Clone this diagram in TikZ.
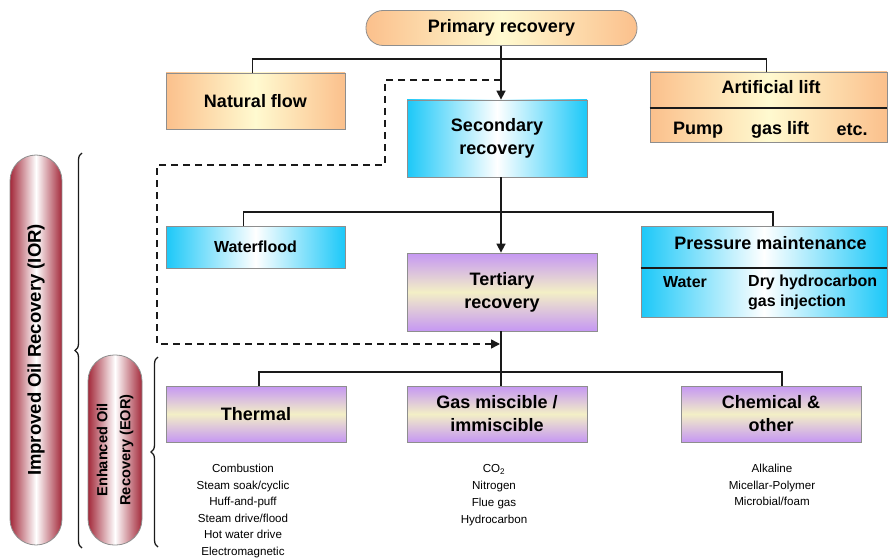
\documentclass[tikz,border=0pt]{standalone}
\usepackage{fontspec}
\setmainfont{Liberation Sans}
\usetikzlibrary{positioning,arrows.meta,decorations.pathreplacing}

\definecolor{orangeedge}{HTML}{FBC08C}
\definecolor{orangemid}{HTML}{FFFAD0}
\definecolor{blueedge}{HTML}{1CC8F8}
\definecolor{purpleedge}{HTML}{C597F3}
\definecolor{purplemid}{HTML}{F3EFC6}
\definecolor{pilledge}{HTML}{A3293A}
\definecolor{boxline}{HTML}{8E8E8E}
\definecolor{inkline}{HTML}{1A1A1A}

\tikzset{
  box/.style={draw=boxline, line width=0.8pt, inner sep=0pt, align=center,
    font=\fontsize{18}{23}\selectfont\bfseries},
  orangebox/.style={box, left color=orangeedge, right color=orangeedge, middle color=orangemid},
  bluebox/.style={box, left color=blueedge, right color=blueedge, middle color=white},
  purplebox/.style={box, top color=purpleedge, bottom color=purpleedge, middle color=purplemid},
  pill/.style={draw=boxline, line width=0.8pt, rounded corners=26pt, inner sep=0pt,
    left color=pilledge, right color=pilledge, middle color=white},
  sublabel/.style={inner sep=0pt, font=\fontsize{16}{20}\selectfont\bfseries},
  listtext/.style={inner sep=0pt, align=center, anchor=north, font=\fontsize{11.6}{16.5}\selectfont},
  link/.style={draw=inkline, line width=1.6pt},
  flowarrow/.style={-{Triangle[width=9pt,length=9pt]}},
  bracebar/.style={draw=inkline, line width=1.3pt, decorate, decoration={brace, amplitude=7pt}}
}

\begin{document}
\begin{tikzpicture}[x=1pt, y=-1pt]
  \useasboundingbox (0,0) rectangle (888,559);

  % recovery stages
  \node[orangebox, rounded corners=17pt, minimum width=271, minimum height=35] (primary) at (501.5,28) {Primary recovery};
  \node[orangebox, minimum width=179, minimum height=56] (natural) at (255.5,101) {Natural flow};
  \node[orangebox, minimum width=237, minimum height=70] (artlift) at (768.5,107) {};
  \node[bluebox, minimum width=180, minimum height=77] (secondary) at (497,138.5) {Secondary\\recovery};
  \node[bluebox, minimum width=179, minimum height=42, font=\fontsize{16}{20}\selectfont\bfseries] (waterflood) at (255.5,247) {Waterflood};
  \node[bluebox, minimum width=246, minimum height=91] (pressure) at (764,271.5) {};
  \node[purplebox, minimum width=190, minimum height=78] (tertiary) at (502,292) {Tertiary\\recovery};
  \node[purplebox, minimum width=180, minimum height=56] (thermal) at (256,414) {Thermal};
  \node[purplebox, minimum width=180, minimum height=56] (gasmis) at (497,414) {Gas miscible /\\immiscible};
  \node[purplebox, minimum width=180, minimum height=56] (chemical) at (771,414) {Chemical \&\\other};

  % split boxes
  \draw[draw=inkline, line width=1.4pt] (artlift.west |- 0,108) -- (artlift.east |- 0,108);
  \node[sublabel, font=\fontsize{18}{22}\selectfont\bfseries] (artlifttitle) at (771,87) {Artificial lift};
  \node[sublabel, font=\fontsize{18}{22}\selectfont\bfseries] (pump) at (698,130) {Pump};
  \node[sublabel, font=\fontsize{18}{22}\selectfont\bfseries] (gaslift) at (780,130) {gas lift};
  \node[sublabel, font=\fontsize{18}{22}\selectfont\bfseries] (etc) at (852,130) {etc.};
  \draw[draw=inkline, line width=1.4pt] (pressure.west |- 0,268) -- (pressure.east |- 0,268);
  \node[sublabel, font=\fontsize{18}{22}\selectfont\bfseries] (pressuretitle) at (770.5,243) {Pressure maintenance};
  \node[sublabel] (water) at (685,282) {Water};
  \node[sublabel, align=left, anchor=west, font=\fontsize{16}{20}\selectfont\bfseries] (dryhc) at (748,292) {Dry hydrocarbon\\gas injection};

  % methods
  \node[listtext] (thermallist) at (243,464) {Combustion\\Steam soak/cyclic\\Huff-and-puff\\Steam drive/flood\\Hot water drive\\Electromagnetic};
  \node[listtext, font=\fontsize{11.6}{17.2}\selectfont] (gaslist) at (494,464) {CO\textsubscript{2}\\Nitrogen\\Flue gas\\Hydrocarbon};
  \node[listtext] (chemlist) at (772,464) {Alkaline\\Micellar-Polymer\\Microbial/foam};

  % tree connectors
  \coordinate (split1) at (501,59);
  \coordinate (split2) at (501,212);
  \coordinate (split3) at (501,372);
  \draw[link] ([xshift=-3pt]natural.north) |- (split1) -| ([xshift=-2pt]artlift.north);
  \draw[link, flowarrow] (split1 |- primary.south) -- (split1 |- secondary.north);
  \draw[link] (split2 |- secondary.south) -- (split2);
  \draw[link] ([xshift=-12pt]waterflood.north) |- (split2) -| ([xshift=9pt]pressure.north);
  \draw[link, flowarrow] (split2) -- (split2 |- tertiary.north);
  \draw[link] (split3 |- tertiary.south) -- (split3);
  \draw[link] ([xshift=3pt]thermal.north) |- (split3) -| ([xshift=11pt]chemical.north);
  \draw[link] (split3) -- (split3 |- gasmis.north);

  % secondary can be skipped
  \coordinate (skipstart) at (501,80);
  \coordinate (skipend) at (500,344);
  \draw[link, flowarrow, dash pattern=on 7pt off 5pt] (skipstart) -- ++(-116,0) |- ++(-228,85) |- (skipend);

  % IOR / EOR
  \node[pill, minimum width=52, minimum height=390] (iorpill) at (36,350) {};
  \node[rotate=90, font=\fontsize{18.5}{24}\selectfont\bfseries] (iortext) at (iorpill) {Improved Oil Recovery (IOR)};
  \node[pill, minimum width=54, minimum height=190] (eorpill) at (115,450) {};
  \node[rotate=90, align=center, font=\fontsize{14.6}{23}\selectfont\bfseries] (eortext) at (eorpill) {Enhanced Oil\\Recovery (EOR)};
  \draw[bracebar] (82,548) -- (82,153);
  \draw[bracebar] (158,547) -- (158,357);
\end{tikzpicture}
\end{document}
